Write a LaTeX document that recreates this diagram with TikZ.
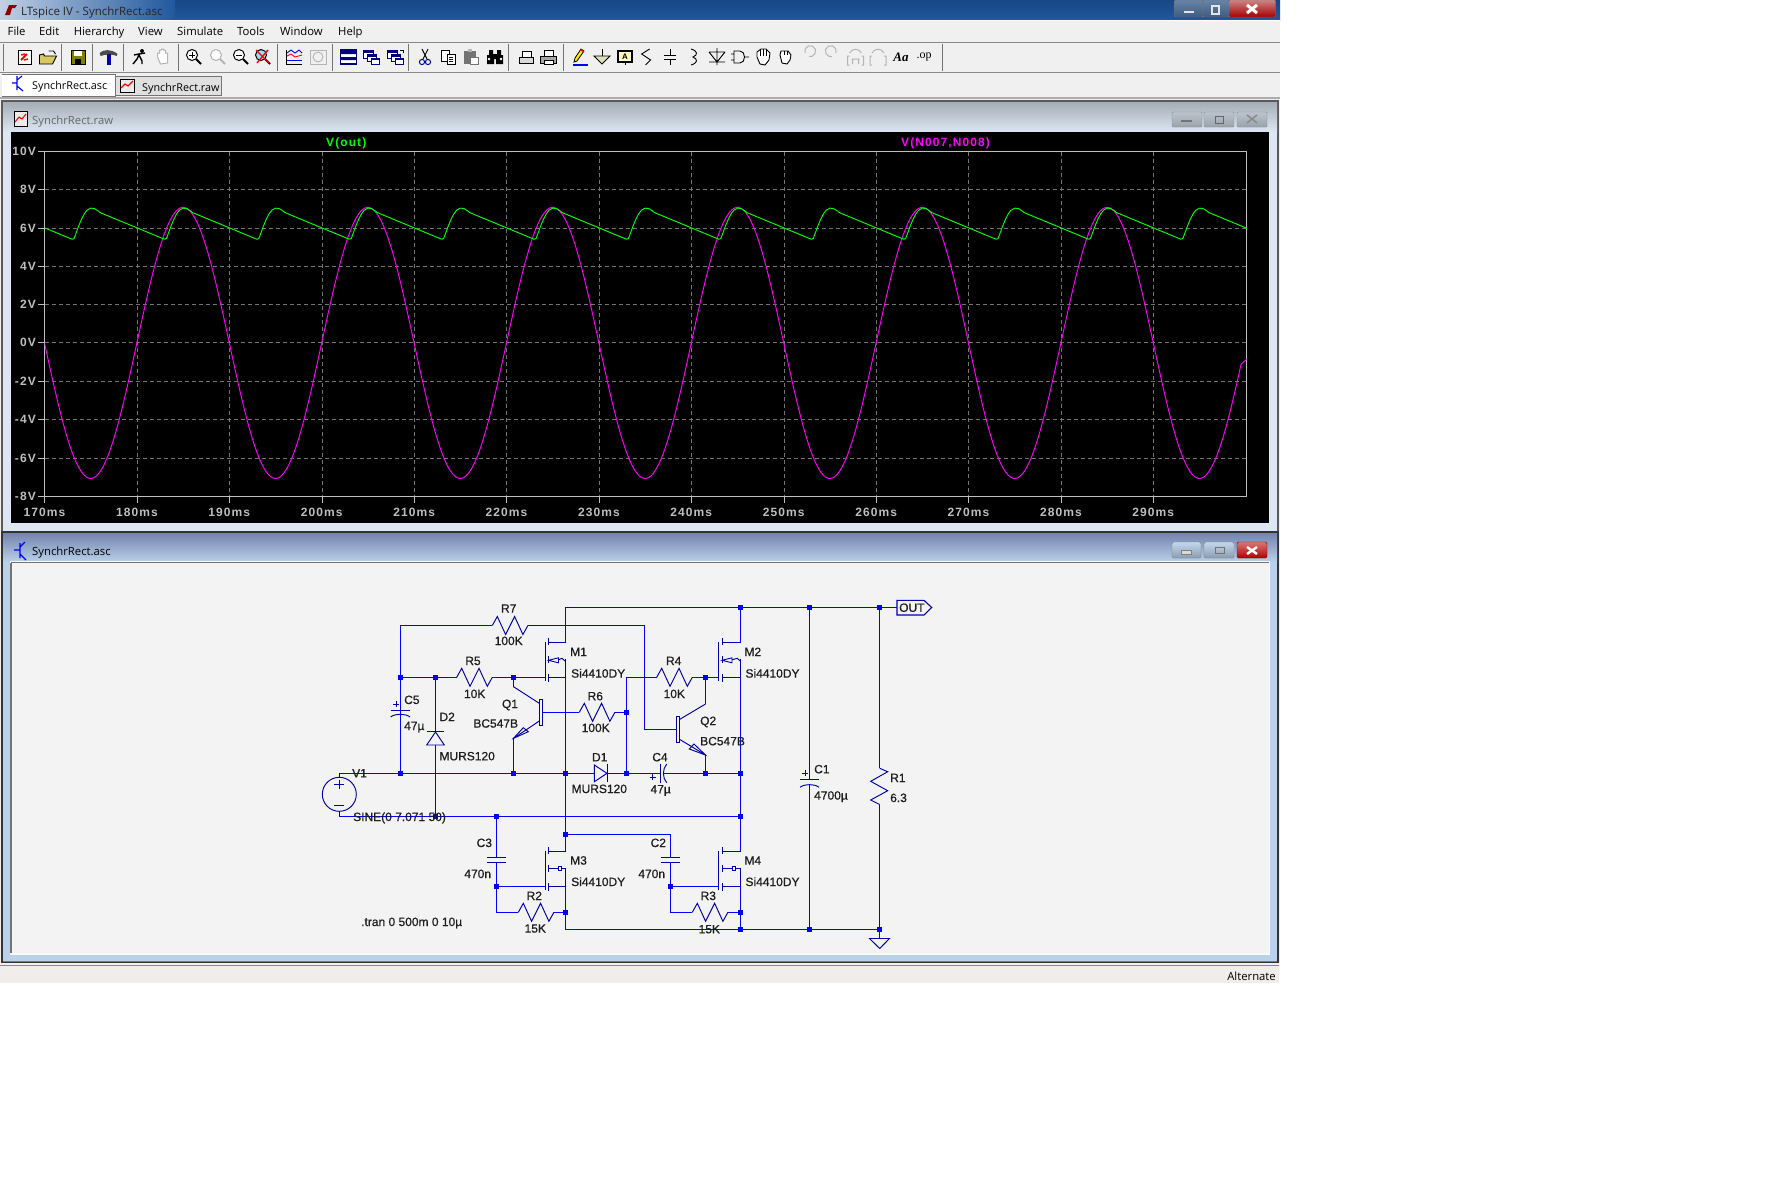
\documentclass[tikz,border=0pt]{standalone}
\usepackage{fontspec}
\setmainfont{Liberation Sans}
\newfontfamily\uif{Open Sans}
\newfontfamily\serf{Liberation Serif}
\newfontfamily\lblf[FakeBold=0.7]{Liberation Sans}
\newfontfamily\plotf[LetterSpace=9]{Liberation Sans Bold}
\definecolor{wireblue}{HTML}{0000FF}
\definecolor{symblue}{HTML}{0000A8}
\definecolor{gridg}{HTML}{747474}
\definecolor{axisg}{HTML}{BEBEBE}
\definecolor{txtd}{HTML}{1E1E1E}
\definecolor{canvasg}{HTML}{F3F3F3}
\definecolor{appg}{HTML}{F0F0F0}
\definecolor{statusg}{HTML}{F0EDEB}
\definecolor{frameA}{HTML}{DCE7F3}
\definecolor{frameB}{HTML}{B9D1EA}
\definecolor{iconG}{HTML}{B4B4B4}
\definecolor{folder}{HTML}{D8C860}
\definecolor{olive}{HTML}{808000}
\definecolor{tracemag}{HTML}{FF00FF}
\definecolor{tracegrn}{HTML}{00FF00}
\definecolor{titleA}{HTML}{174786}
\definecolor{titleB}{HTML}{21589E}
\tikzset{
  wire/.style={draw=wireblue,line width=1.05pt},
  sym/.style={draw=symblue,line width=0.95pt,line join=miter},
  jdot/.style={rectangle,fill=wireblue,inner sep=0pt,minimum size=5.4pt},
  lab/.style={inner sep=0pt,text=txtd,font=\lblf\fontsize{12}{12}\selectfont,text height=8.6pt,text depth=0pt},
  plab/.style={inner sep=0pt,text=axisg,font=\plotf\fontsize{12}{12}\selectfont,text height=8.6pt,text depth=0pt},
  ui/.style={inner sep=0pt,text=black,font=\uif\fontsize{11.3}{12}\selectfont,text height=8.6pt,text depth=0pt},
  tabtxt/.style={inner sep=0pt,text=black,font=\uif\fontsize{10.8}{12}\selectfont,text height=8.6pt,text depth=0pt},
  menu/.style={inner sep=0pt,text=black,font=\uif\fontsize{11.3}{12}\selectfont,text height=8.6pt,text depth=2pt},
  icon/.style={draw=black,line width=0.9pt},
}
% resistor: name, x, y
\newcommand\hres[3]{%
  \coordinate (#1-a) at (#2,#3);
  \draw[sym] (#1-a) -- ++(5,-9) -- ++(8.3,18) -- ++(9,-18) -- ++(8.3,18) -- ++(5,-9) coordinate (#1-b);}
% mos: gate x, channel x, rail x, drain y, kind(0 arrow,1 box)
\newcommand\mos[5]{%
  \draw[sym] (#1,#4) -- (#1,#4+39);
  \draw[sym] (#2,#4-4) -- (#2,#4+3) (#2,#4+14) -- (#2,#4+21) (#2,#4+32) -- (#2,#4+39.5);
  \draw[sym] (#2,#4) -- (#3,#4) (#2,#4+35) -- (#3,#4+35) (#3,#4+17) -- (#3,#4+35);
  \ifnum#5=0
    \draw[sym] (#2,#4+18) -- (#2+10,#4+15.5) -- (#2+10,#4+20.5) -- cycle;
    \draw[sym] (#2+10,#4+17.5) -- (#3-3.5,#4+16) -- (#3,#4+19);
  \else
    \draw[sym] (#2,#4+17.5) -- (#2+10,#4+17.5);
    \draw[sym] (#2+10,#4+15.5) rectangle (#2+13,#4+19.5);
    \draw[sym] (#2+13,#4+17) -- (#3,#4+17);
  \fi}
\newcommand\magn[2]{% colour, inner
  \draw[#1,line width=1pt,fill=#2] (-2,-2) circle[radius=5.5pt];
  \draw[#1,line width=2pt] (2,2) -- (7,7);}
\begin{document}
\begin{tikzpicture}[x=1pt,y=-1pt]
\path[use as bounding box,fill=white] (0,0) rectangle (1792,1195);
% application background
\fill[appg] (0,20) rectangle (1280,967);
% title bar
\shade[top color=titleA,bottom color=titleB] (0,0) rectangle (1280,20);
\shade[left color=white!72!titleB,right color=titleB] (0,0) rectangle (175,20);
\draw[white,line width=1pt] (0,20.7) -- (1280,20.7);
\node[ui,anchor=west,font=\uif\fontsize{11.5}{12}\selectfont,text=black!85] (apptitle) at (21,11) {LTspice IV - SynchrRect.asc};
\fill[red!55!black] (5,15) -- (9,5) -- (17,5) -- (15,8) -- (12,8) -- (10,15) -- cycle;
% main window buttons
\draw[draw=black!55,top color=titleB!60!white!85!black,bottom color=titleB!75!white!70!black,rounded corners=1pt] (1174.5,0) rectangle (1203,17);
\draw[draw=black!55,top color=titleB!60!white!85!black,bottom color=titleB!75!white!70!black,rounded corners=1pt] (1203,0) rectangle (1229,17);
\draw[draw=black!55,top color=red!35!white!80!black,bottom color=red!65!black,rounded corners=1pt] (1229,0) rectangle (1275.5,17);
\fill[white!90!black] (1184,10.5) rectangle (1194,13);
\draw[white!90!black,line width=1.2pt] (1212,6) rectangle (1219,14);
\draw[white,line width=3pt] (1247,5) -- (1257,13) (1257,5) -- (1247,13);
% menu
\foreach \n/\x/\t in {mF/7.5/File,mE/39/Edit,mH/73.6/Hierarchy,mV/138/View,mS/177/Simulate,mT/237/Tools,mW/280/Window,mP/338/Help}
  \node[menu,anchor=west] (\n) at (\x,32) {\t};
\draw[gridg!85] (0,42.5) -- (1280,42.5);
\draw[gridg!85] (0,72.5) -- (1280,72.5);
% toolbar separators
\foreach \x in {3,61,92,123,178,277,332,408,508,563,942}
  \draw[gridg] (\x,44) -- (\x,71);
% toolbar icons
\begin{scope}[line width=.9pt]
\begin{scope}[shift={(24,57)}]\draw[icon,fill=white] (-6,-7) rectangle (7,7);\draw[red,line width=2pt] (-3,3) -- (3,-3);\draw[red,line width=1.5pt] (-3,-2) -- (1,-3) (0,3) -- (4,2);\end{scope}
\begin{scope}[shift={(47.5,57)}]\draw[icon,fill=folder] (-8,-2) -- (-8,7) -- (5,7) -- (9,-1) -- (-3,-1) -- (-4,-3) -- cycle;\draw[black] (1,-6) -- (6,-6) -- (8,-3);\end{scope}
\begin{scope}[shift={(78,57)}]\draw[icon,fill=olive] (-7,-7) rectangle (7,7);\fill[white] (-4,-6) rectangle (4,-1);\fill[black] (-3,2) rectangle (3,7);\end{scope}
\begin{scope}[shift={(108.6,57)}]\fill[black!70] (-9,-4) .. controls (-5,-8) and (3,-8) .. (9,-3) -- (8,-1) .. controls (4,-3) and (-3,-3) .. (-8,-1) -- cycle;\fill[blue!70!black] (-2,-3) rectangle (2,8);\end{scope}
\begin{scope}[shift={(139,57)}]\draw[black,line width=1.4pt] (-6,7) -- (-2,2) -- (0,-2) -- (3,4) -- (3,7) (-5,-2) -- (0,-3) -- (6,-4);\fill[black] (3,-6) circle[radius=2pt];\end{scope}
\begin{scope}[shift={(162.5,57)}]\draw[iconG,line width=1pt,fill=white] (-5,0) -- (-5,-4) -- (-3,-4) -- (-3,-7) -- (-1,-7) -- (-1,-8) -- (1,-8) -- (1,-7) -- (3,-7) -- (3,-4) -- (5,-4) -- (5,6) -- (-2,7) -- cycle;\end{scope}
\begin{scope}[shift={(194,57)}]\magn{black}{white}\draw[black] (-5,-2) -- (1,-2) (-2,-5) -- (-2,1);\end{scope}
\begin{scope}[shift={(218,57)}]\magn{iconG}{white}\end{scope}
\begin{scope}[shift={(241,57)}]\magn{black}{white}\draw[black] (-5,-2) -- (1,-2);\end{scope}
\begin{scope}[shift={(263,57)}]\magn{black}{cyan!40}\draw[red,line width=1.4pt] (-7,-7) -- (6,6) (5,-7) -- (-6,6);\end{scope}
\begin{scope}[shift={(294,57)}]\draw[black] (-8,-7) -- (-8,7) -- (8,7);\draw[blue,line width=.8pt] (-7,3) -- (8,3);\draw[red] (-7,-1) -- (-3,-3) -- (1,0) -- (8,-2);\draw[blue] (-7,-4) -- (-3,-7) -- (1,-4) -- (5,-7) -- (8,-4);\end{scope}
\begin{scope}[shift={(318,57)}]\draw[iconG] (-8,-7) rectangle (8,7);\draw[iconG] (0,0) circle[radius=5pt];\end{scope}
\begin{scope}[shift={(348.5,57)}]\draw[blue!50!black,line width=1.2pt,fill=white] (-8,-7) rectangle (8,7);\fill[blue!50!black] (-8,-7) rectangle (8,-3) (-8,0) rectangle (8,3);\end{scope}
\begin{scope}[shift={(371,57)}]\draw[blue!50!black,fill=white] (-8,-7) rectangle (2,1);\fill[blue!50!black] (-8,-7) rectangle (2,-4);\draw[blue!50!black,fill=white] (-4,-3) rectangle (5,4);\fill[blue!50!black] (-4,-3) rectangle (5,0);\draw[blue!50!black,fill=white] (0,1) rectangle (8,7);\fill[blue!50!black] (0,1) rectangle (8,3);\end{scope}
\begin{scope}[shift={(395,57)}]\draw[blue!50!black,fill=white] (-8,-7) rectangle (2,1);\fill[blue!50!black] (-8,-7) rectangle (2,-4);\draw[blue!50!black,fill=white] (-4,-3) rectangle (5,4);\fill[blue!50!black] (-4,-3) rectangle (5,0);\draw[blue!50!black,fill=white] (0,1) rectangle (8,7);\fill[blue!50!black] (0,1) rectangle (8,3);\draw[black] (5,-7) -- (8,-7) -- (8,-4);\end{scope}
\begin{scope}[shift={(425,57)}]\draw[black] (-3,-8) -- (2,2) (3,-8) -- (-2,2);\draw[blue!70!black,line width=1pt] (-3,5) circle[radius=2.6pt] (3,5) circle[radius=2.6pt];\end{scope}
\begin{scope}[shift={(448,57)}]\draw[black,fill=white] (-7,-7) rectangle (1,4);\draw[black,fill=white] (-1,-3) rectangle (7,7);\draw[blue!60!black] (1,0) -- (5,0) (1,2) -- (5,2) (1,4) -- (5,4);\end{scope}
\begin{scope}[shift={(471,57)}]\fill[gridg] (-7,-6) rectangle (5,7);\fill[iconG] (-3,-8) rectangle (1,-5);\draw[gridg,fill=white] (-1,0) rectangle (7,7);\end{scope}
\begin{scope}[shift={(495,57)}]\fill[black] (-8,-2) rectangle (-1,7) (1,-2) rectangle (8,7) (-6,-7) rectangle (-2,-1) (2,-7) rectangle (6,-1) (-2,-3) rectangle (2,2);\fill[white] (-6,2) circle[radius=1.3pt] (6,2) circle[radius=1.3pt];\end{scope}
\begin{scope}[shift={(526,57)}]\draw[black,fill=white] (-4,-6) rectangle (5,1);\draw[black,fill=black!15] (-7,0) -- (7,0) -- (7,6) -- (-7,6) -- cycle;\end{scope}
\begin{scope}[shift={(548,57)}]\draw[black,fill=white] (-4,-7) rectangle (5,0);\draw[black,fill=black!35] (-8,-1) -- (8,-1) -- (8,6) -- (-8,6) -- cycle;\draw[black,fill=white] (-4,3) rectangle (5,7);\end{scope}
\begin{scope}[shift={(580,57)}]\draw[blue,line width=1.2pt] (-7,8) -- (8,8);\draw[black,line width=.8pt,fill=yellow!85!orange] (-6,5) -- (-5,1) -- (1,-8) -- (4,-6) -- (-3,4) -- cycle;\fill[red] (1,-8) -- (4,-6) -- (3,-5) -- (0,-7) -- cycle;\end{scope}
\begin{scope}[shift={(602,57)}]\draw[black] (0,-8) -- (0,-1);\draw[black,fill=olive!25] (-8,-1) -- (8,-1) -- (0,7) -- cycle;\end{scope}
\begin{scope}[shift={(625,57)}]\draw[black,line width=1.2pt,fill=yellow!25] (-7,-6) rectangle (7,5);\draw[black] (0,5) -- (0,8);\node[inner sep=0pt,font=\fontsize{8}{8}\selectfont\bfseries] (tba) at (0,-0.5) {A};\end{scope}
\begin{scope}[shift={(647.6,57)}]\draw[black] (2,-8) -- (-6,-3) -- (3,3) -- (-2,8);\end{scope}
\begin{scope}[shift={(670,57)}]\draw[black] (0,-8) -- (0,-2) (-6,-2) -- (6,-2) (-6,2) -- (6,2) (0,2) -- (0,8);\end{scope}
\begin{scope}[shift={(693,57)}]\draw[black] (-2,-8) .. controls (5,-6) and (5,-2) .. (0,0) .. controls (5,2) and (5,6) .. (-2,8);\end{scope}
\begin{scope}[shift={(717,57)}]\draw[black] (0,-9) -- (0,8) (-8,-5) -- (8,-5) (-8,-5) -- (0,5) -- (8,-5) (-8,5) -- (8,5);\end{scope}
\begin{scope}[shift={(740,57)}]\draw[black] (-6,-6) -- (0,-6) .. controls (6,-6) and (6,6) .. (0,6) -- (-6,6) -- cycle (-9,-3) -- (-6,-3) (-9,3) -- (-6,3) (5,0) -- (9,0);\end{scope}
\begin{scope}[shift={(763,57)}]\draw[black,fill=white] (-6,0) -- (-6,-5) -- (-2,-8) -- (3,-8) -- (7,-4) -- (6,3) -- (2,8) -- (-3,7) -- cycle;\draw[black] (-3,-8) -- (-3,-1) (0,-8) -- (0,-1) (3,-8) -- (3,-1);\end{scope}
\begin{scope}[shift={(785,57)}]\draw[black,fill=white] (-5,-2) -- (-4,-6) -- (3,-6) -- (6,-2) -- (5,3) -- (2,7) -- (-3,6) -- cycle;\draw[black] (-1,-6) -- (-1,-2) (2,-6) -- (2,-2);\end{scope}
\begin{scope}[shift={(809,57)}]\draw[iconG,line width=1pt] (-4,-4) arc[start angle=200,end angle=-100,radius=5.5pt];\end{scope}
\begin{scope}[shift={(832,57)}]\draw[iconG,line width=1pt] (4,-4) arc[start angle=-20,end angle=280,radius=5.5pt];\end{scope}
\begin{scope}[shift={(855.5,57)}]\draw[iconG,line width=1pt] (-6,8) -- (-8,8) -- (-8,-1) -- (-6,-1) (6,8) -- (8,8) -- (8,-1) -- (6,-1) (-4,2) -- (4,2) (-3,2) -- (-3,7) (3,2) -- (3,7) (-6,-4) .. controls (-3,-9) and (3,-9) .. (6,-4);\end{scope}
\begin{scope}[shift={(878,57)}]\draw[iconG,line width=1pt] (-6,8) -- (-8,8) -- (-8,-1) -- (-6,-1) (6,8) -- (8,8) -- (8,-1) -- (6,-1) (-6,-4) .. controls (-3,-9) and (3,-9) .. (6,-4);\end{scope}
\end{scope}
\node[inner sep=0pt,font=\serf\fontsize{13}{13}\selectfont\bfseries\itshape] (tbaa) at (901,57) {Aa};
\node[inner sep=0pt,font=\serf\fontsize{12}{12}\selectfont] (tbop) at (924,57) {.op};
% tabs
\draw[gridg,fill=black!12] (115,76.5) rectangle (221,95);
\draw[gridg,fill=white] (2,74) -- (115,74) -- (115,96) -- (2,96);
\draw[gridg!60,line width=2pt] (0,97.5) -- (1280,97.5);
\draw[blue,line width=1.1pt] (17,76) -- (17,90) (17,83) -- (12,83) (17,80) -- (22,76) (17,86) -- (23,91);
\node[tabtxt,anchor=west] (tabasc) at (32,85) {SynchrRect.asc};
\draw[black,fill=black!8] (120,79) rectangle (134,92);
\draw[red,line width=1.1pt] (121,88) -- (125,84) -- (128,86) -- (133,81);
\node[tabtxt,anchor=west] (tabraw) at (142,87.5) {SynchrRect.raw};
% plot window
\draw[black!65,line width=1.2pt,fill=frameA] (2,101) -- (1278,101) -- (1278,532) -- (2,532) -- cycle;
\shade[top color=black!25!frameA,bottom color=frameA] (3,102) rectangle (1277,132);
\fill[black] (11,132) rectangle (1268.7,522.7);
\draw[black,fill=black!8] (14,111) rectangle (27,126);
\draw[red,line width=1.1pt] (15,122) -- (19,117) -- (22,119) -- (26,114);
\node[ui,anchor=west,text=black!60] (rawtitle) at (32,120) {SynchrRect.raw};
\foreach \x in {1172,1204,1237}
  \draw[black!45,rounded corners=1pt,top color=frameA!85!black,bottom color=frameA!70!black] (\x,112) rectangle (\x+30,127);
\fill[black!55] (1181,120) rectangle (1192,122);
\draw[black!60] (1215,116) rectangle (1223,123);
\draw[black!45,line width=1.6pt] (1247,115) -- (1257,123) (1257,115) -- (1247,123);
% plot grid
\foreach \k in {1,...,12}
  \draw[gridg,dash pattern=on 4pt off 3pt] (44.5+92.4*\k,151.5) -- (44.5+92.4*\k,496.5);
\foreach \y in {189.5,228.5,266.5,304.5,342.5,381.5,419.5,458.5}
  \draw[gridg,dash pattern=on 4pt off 3pt] (44.5,\y) -- (1246.5,\y);
\draw[axisg,line width=1pt] (38,151.5) -- (1246.5,151.5) -- (1246.5,496.5) -- (38,496.5);
\draw[axisg,line width=1pt] (44.5,151.5) -- (44.5,503);
\foreach \n/\y/\t in {y1/151.5/10V,y2/189.5/8V,y3/228.5/6V,y4/266.5/4V,y5/304.5/2V,y6/342.5/0V,y7/381.5/-2V,y8/419.5/-4V,y9/458.5/-6V,y10/496.5/-8V}{
  \draw[axisg] (38,\y) -- (44.5,\y);
  \node[plab,anchor=east] (\n) at (36,\y) {\t};}
\foreach \k/\t in {0/170ms,1/180ms,2/190ms,3/200ms,4/210ms,5/220ms,6/230ms,7/240ms,8/250ms,9/260ms,10/270ms,11/280ms,12/290ms}{
  \draw[axisg] (44.5+92.4*\k,496.5) -- (44.5+92.4*\k,503);
  \node[plab] (xt\k) at (44.5+92.4*\k,512.3) {\t};}
\node[plab,text=tracegrn,anchor=west] (vout) at (326,141.7) {V(out)};
\node[plab,text=tracemag,anchor=west] (vn) at (901,141.7) {V(N007,N008)};
% traces
\begin{scope}
\clip (44.5,132) rectangle (1247,497);
\draw[tracemag,line width=0.95pt,line join=round] plot[domain=170:299.5,samples=520] ({44.5+(\x-170)*9.24},{342.9+135.6*sin(18*(\x-170))}) -- (1246.7,359.3);
\foreach \k in {0,...,13}
  \draw[tracegrn,line width=0.95pt,line join=round,shift={(92.4*\k,0)}] (-1.7,208.1) -- (2,208.6) -- (5.7,210.9) -- (7.5,212.5) -- (72.2,239.3) -- (74.1,238.4) -- (75.9,233.6) -- (78.7,225.9) -- (81.5,219.2) -- (84.2,214) -- (87,210.2) -- (90.7,208.1);
\end{scope}
% schematic window
\draw[black!80,line width=1.2pt,fill=frameB] (2,532) -- (1278,532) -- (1278,962.5) -- (2,962.5) -- cycle;
\shade[top color=frameB!70!black!90!blue,bottom color=frameB] (3,533) rectangle (1277,562);
\fill[white!90!frameB] (10,561) rectangle (1270,955);
\fill[canvasg] (11,562) rectangle (1268.5,953.3);
\draw[gridg,line width=1.2pt] (11,562.5) -- (1268.5,562.5) (11,562.5) -- (11,953);
\draw[cyan!70!black] (3,961.3) -- (1277,961.3);
\draw[gridg!85] (0,965) -- (1279,965);
\fill[statusg] (0,966) rectangle (1279,982.7);
\node[ui,anchor=east] (altn) at (1276,976) {Alternate};
\draw[blue,line width=1.2pt] (20,543) -- (20,558) (20,550) -- (14,550) (20,547) -- (25,542) (20,554) -- (26,560);
\node[ui,anchor=west] (asctitle) at (32,550.7) {SynchrRect.asc};
\draw[black!50,rounded corners=1.5pt,top color=frameB!85!white,bottom color=frameB!75!black] (1172,542) rectangle (1201,558);
\draw[black!50,rounded corners=1.5pt,top color=frameB!85!white,bottom color=frameB!75!black] (1204,542) rectangle (1234,558);
\draw[red!40!black,rounded corners=1.5pt,top color=red!45!white!85!black,bottom color=red!70!black] (1237,542) rectangle (1267,558);
\fill[white!85!black,draw=black!50] (1181,550) rectangle (1191.5,554);
\draw[black!55,line width=1pt] (1215,547) rectangle (1224,553);
\draw[white,line width=2.4pt] (1247,547) -- (1257,554) (1257,547) -- (1247,554);
% junctions
\foreach \n/\x/\y in {ja/400.3/677.3,jb/435.5/677.3,jc/513.5/677.3,jd/400.3/773.3,je/513.5/773.3,jf/565.5/773.3,jg/626.5/773.3,jh/626.5/712.3,ji/435.5/816.5,jj/496.5/816.5,jk/740.7/607.3,jl/809.7/607.3,jm/879.7/607.3,jn/705.5/677.3,jo/705.5/773.3,jp/740.7/773.3,jq/740.7/816.5,jr/565.5/834.3,js/496.5/886.3,jt/565.5/912.3,ju/670.3/886.3,jv/740.7/912.3,jw/740.7/929.3,jx/809.7/929.3,jy/879.7/929.3}
  \node[jdot] (\n) at (\x,\y) {};
% resistors
\hres{R7}{492.3}{625.5}
\hres{R5}{456.7}{677.3}
\hres{R6}{579.3}{712.3}
\hres{R4}{656.7}{677.3}
\hres{R2}{518.3}{912.3}
\hres{R3}{692.3}{912.3}
\coordinate (R1-a) at (879.7,768.3);
\coordinate (R1-b) at (879.7,804.5);
\draw[sym] (R1-a) -- (887.7,771.7) -- (870.7,781.3) -- (887.7,790.7) -- (870.7,800) -- (R1-b);
% MOSFETs
\mos{545}{548.5}{565.5}{642.3}{0}
\mos{718.7}{722}{740.7}{642.3}{0}
\mos{545}{548.5}{565.5}{851}{1}
\mos{718.7}{722}{740.7}{851}{1}
% Q1
\draw[sym] (539.3,699) rectangle (542.3,725.3);
\draw[sym] (539.3,703.3) -- (513.5,686.7) (539.3,721) -- (513.5,738.3);
\draw[sym] (513.5,738.3) -- (523.3,727.7) -- (528.3,731.7) -- cycle;
% Q2
\draw[sym] (676.7,716.7) rectangle (679.5,742.3);
\draw[sym] (679.5,719.5) -- (705.5,704) (679.5,739.3) -- (705.5,755);
\draw[sym] (705.5,755) -- (689.3,749) -- (694,744) -- cycle;
% V1
\draw[sym] (339.3,794.3) circle[radius=17pt];
\draw[sym] (339.3,777.3) -- (339.3,773.3) (339.3,811.3) -- (339.3,816.5);
\draw[sym] (334.3,784.3) -- (344.3,784.3) (339.3,779.5) -- (339.3,789.3) (334.3,805.7) -- (344.3,805.7);
% D2
\draw[sym] (426.7,731.3) -- (444.3,731.3);
\draw[sym] (435.5,732) -- (426.7,745) -- (444.3,745) -- cycle;
% D1
\draw[sym] (594.3,765) -- (594.3,781.7) -- (607,773.3) -- cycle;
\draw[sym] (607,764.3) -- (607,781.7);
% capacitors
\draw[sym] (390.7,710.7) -- (410,710.7);
\draw[sym] (390.7,717) .. controls (394,713.5) and (406.5,713.5) .. (410,717);
\draw[sym] (393,704) -- (399,704) (396,701) -- (396,707);
\draw[sym] (800,779.3) -- (819,779.3);
\draw[sym] (800,787.3) .. controls (804,783.8) and (815,783.8) .. (819,787.3);
\draw[sym] (802.3,773.3) -- (808.3,773.3) (805.3,770.3) -- (805.3,776.3);
\draw[sym] (660,764) -- (660,782.7);
\draw[sym] (666.7,764) .. controls (662.3,769) and (662.3,778) .. (666.7,782.7);
\draw[sym] (649.7,777.3) -- (655.7,777.3) (652.7,774.3) -- (652.7,780.3);
\draw[sym] (487.3,857) -- (505.7,857) (487.3,862) -- (505.7,862);
\draw[sym] (661,857) -- (680,857) (661,862) -- (680,862);
% OUT tag and ground
\draw[sym,line width=1.1pt] (897,600.3) coordinate (tag) -- (924,600.3) -- (931.7,607.5) -- (924,615) -- (897,615) -- cycle;
\coordinate (gnd) at (879.7,938.5);
\draw[sym] (869.5,938.5) -- (889.5,938.5) -- (879.7,948.5) -- cycle;
% wires
\draw[wire] (jd.center) -- (ja.center) -- (400.3,625.5) -- (R7-a);
\draw[wire] (R7-b) -- (644.3,625.5) -- (644.3,729.3) -- (676.7,729.3);
\draw[wire] (ja.center) -- (jb.center) -- (R5-a);
\draw[wire] (R5-b) -- (jc.center) -- (545,677.3);
\draw[wire] (jc.center) -- (513.5,686.7);
\draw[wire] (513.5,738.3) -- (je.center);
\draw[wire] (ja.center) -- (400.3,710.7);
\draw[wire] (400.3,714.3) -- (jd.center);
\draw[wire] (jb.center) -- (435.5,731.3);
\draw[wire] (435.5,745) -- (ji.center);
\draw[wire] (339.3,773.3) -- (jd.center) -- (je.center) -- (jf.center) -- (594.3,773.3);
\draw[wire] (607,773.3) -- (jg.center) -- (660,773.3);
\draw[wire] (663.5,773.3) -- (jo.center) -- (jp.center);
\draw[wire] (339.3,816.5) -- (ji.center) -- (jj.center) -- (jq.center);
\draw[wire] (565.5,642.3) -- (565.5,607.3) -- (jk.center) -- (jl.center) -- (jm.center) -- (897,607.3);
\draw[wire] (565.5,677.3) -- (jf.center) -- (jr.center) -- (565.5,851);
\draw[wire] (565.5,886.3) -- (jt.center) -- (565.5,929.3) -- (jw.center) -- (jx.center) -- (jy.center);
\draw[wire] (jr.center) -- (670.3,834.3) -- (670.3,857);
\draw[wire] (670.3,862) -- (ju.center) -- (670.3,912.3) -- (R3-a);
\draw[wire] (R3-b) -- (jv.center);
\draw[wire] (jj.center) -- (496.5,857);
\draw[wire] (496.5,862) -- (js.center) -- (496.5,912.3) -- (R2-a);
\draw[wire] (R2-b) -- (jt.center);
\draw[wire] (js.center) -- (545,886.3);
\draw[wire] (ju.center) -- (718.7,886.3);
\draw[wire] (jk.center) -- (740.7,642.3);
\draw[wire] (740.7,677.3) -- (jp.center) -- (jq.center) -- (740.7,851);
\draw[wire] (740.7,886.3) -- (jv.center) -- (jw.center);
\draw[wire] (jl.center) -- (809.7,779.3);
\draw[wire] (809.7,785) -- (jx.center);
\draw[wire] (jm.center) -- (R1-a);
\draw[wire] (R1-b) -- (jy.center);
\draw[wire] (jy.center) -- (gnd);
\draw[wire] (542.3,712.3) -- (R6-a);
\draw[wire] (R6-b) -- (jh.center);
\draw[wire] (jg.center) -- (jh.center) -- (626.5,677.3) -- (R4-a);
\draw[wire] (R4-b) -- (jn.center) -- (718.7,677.3);
\draw[wire] (jn.center) -- (705.5,704);
\draw[wire] (705.5,755) -- (jo.center);
% labels
\foreach \n/\x/\y/\t in {lR7/508.7/608.3/R7,lR7v/508.7/640.7/100K,lR5/473/660.7/R5,lR5v/474.7/693.7/10K,lQ1/510/703.7/Q1,lQ1m/495.7/723.3/BC547B,lR6/595.3/696/R6,lR6v/595.7/727.7/100K,lD1/599.7/757/D1,lD1m/599.3/788.7/MURS120,lR4/673.7/660.7/R4,lR4v/674.3/693.7/10K,lC4/660/757/C4,lC4v/660.7/789/47µ,lC3/484.3/842.7/C3,lC3v/477.7/873.7/470n,lR2/534.3/895.7/R2,lR2v/535.3/928.3/15K,lC2/658.3/842.7/C2,lC2v/651.7/873.7/470n,lR3/708.3/895.7/R3,lR3v/709.3/929/15K}
  \node[lab] (\n) at (\x,\y) {\t};
\foreach \n/\x/\y/\t in {lM1/570/651.7/M1,lM1m/571/673.3/Si4410DY,lM2/744.3/651.7/M2,lM2m/745.3/673.3/Si4410DY,lM3/570/860.3/M3,lM3m/571/881.7/Si4410DY,lM4/744.3/860.3/M4,lM4m/745.3/881.7/Si4410DY,lC5/404/699.7/C5,lC5v/404/725.7/47µ,lD2/439.3/716.7/D2,lD2m/439.3/756/MURS120,lV1/352/773/V1,lV1v/353/816.7/SINE(0 7.071 50),lQ2/700/720.7/Q2,lQ2m/700/741/BC547B,lC1/814/769/C1,lC1v/814/795.3/4700µ,lR1/890/777.7/R1,lR1v/890/797.7/6.3,lTr/361/921.7/.tran 0 500m 0 10µ,lOut/899/607.5/OUT}
  \node[lab,anchor=west] (\n) at (\x,\y) {\t};
\end{tikzpicture}
\end{document}
